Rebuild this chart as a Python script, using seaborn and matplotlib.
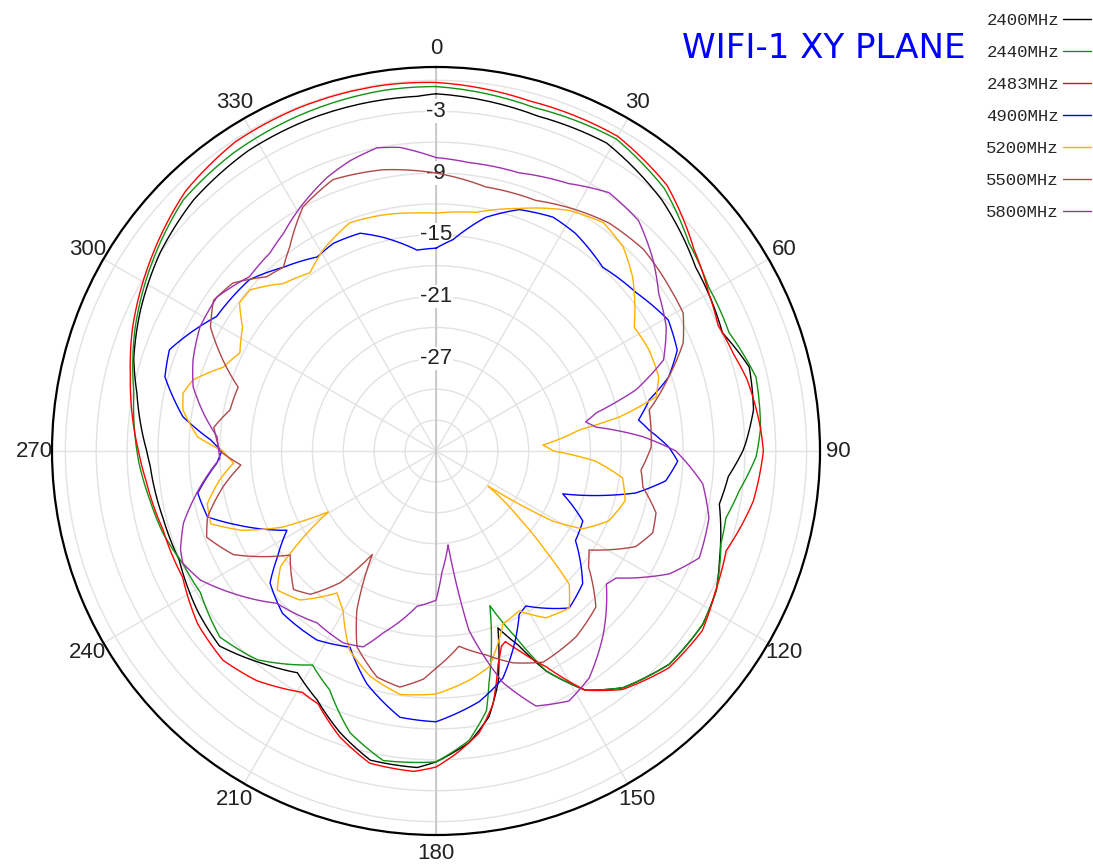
import numpy as np
import pandas as pd
import matplotlib
matplotlib.use("Agg")
import matplotlib.pyplot as plt
import seaborn as sns

# ---------------- data (angle in degrees, gain in dB) ----------------
freqs = ["2400MHz", "2440MHz", "2483MHz", "4900MHz", "5200MHz", "5500MHz", "5800MHz"]
colors = ["#000000", "#129212", "#ff0000", "#0000ff", "#ffb000", "#b04848", "#9c32b0"]

ang_2400 = [0, 17, 29, 42, 54.7, 67.6, 75, 82.6, 88.5, 90, 95, 100.6, 111, 116.4, 123, 132.4,
            141.7, 148, 153.4, 157, 160.7, 165, 168.7, 173.5, 180, 183.4, 192, 198.8, 205.5,
            212, 219, 228, 236, 247, 256, 267, 270, 281, 287, 295.5, 305.7, 316, 328, 340, 357]
db_2400 = [-1.3, -2.0, -1.8, -3.2, -5.1, -5.9, -4.5, -4.9, -5.9, -6.2, -7.5, -8.0, -6.5, -5.6,
           -5.1, -5.3, -6.7, -8.6, -12.1, -15.5, -17.8, -12.7, -9.7, -7.5, -5.8, -5.2, -5.3,
           -7.1, -9.2, -10.6, -9.4, -7.7, -8.1, -8.9, -8.7, -8.2, -7.9, -6.4, -5.3, -4.2, -3.0,
           -2.1, -1.6, -1.5, -1.5]

ang_2440 = [0, 16, 30, 41, 50.6, 59, 68, 77, 86, 91, 97.5, 103, 108, 116.4, 123, 132.4, 141.7,
            148, 153.4, 156.8, 160.8, 167.2, 169, 173.5, 180, 189.7, 197, 204, 210, 220.6, 229.3,
            239, 246, 253.3, 260.3, 268, 281, 292.4, 302.8, 314.8, 325.7, 338, 352]
db_2440 = [-0.6, -1.3, -1.0, -2.2, -4.2, -5.1, -5.3, -4.1, -4.4, -4.9, -6.3, -7.1, -6.9, -5.6,
           -5.1, -5.3, -6.7, -8.6, -12.1, -16.3, -20.1, -12.8, -10.3, -7.7, -5.8, -5.5, -7.4,
           -10.6, -12.0, -9.3, -8.3, -9.3, -9.1, -8.3, -7.8, -7.1, -6.1, -4.4, -3.0, -1.4, -1.0,
           -0.8, -0.6]

ang_2483 = [0, 15, 30, 41, 52, 60, 66, 72, 77, 86, 90, 99, 109, 117, 124, 133, 142, 148, 153,
            157.4, 160, 161.5, 163.8, 167.3, 171.3, 176, 180, 184, 192, 198.6, 205, 209, 218,
            225.5, 234, 243.5, 254, 264, 270, 284, 292, 304, 316, 327, 338, 352]
db_2483 = [-0.2, -0.8, -0.7, -1.8, -4.2, -5.4, -6.0, -5.6, -5.0, -4.4, -4.2, -4.8, -6.2, -5.6,
           -4.8, -5.1, -6.6, -8.6, -12.5, -15.0, -16.3, -16.0, -14.4, -10.8, -8.3, -6.6, -5.3,
           -4.8, -5.0, -6.7, -8.9, -9.2, -7.7, -7.0, -7.4, -8.5, -8.4, -7.7, -7.1, -5.4, -4.2,
           -2.6, -0.95, -0.2, -0.1, -0.1]

ang_4900 = [0, 4.6, 12, 19, 26.6, 32.7, 42.2, 51.7, 60.6, 67.3, 72.4, 76.5, 81.3, 84.4, 89,
            92.4, 97.4, 101.9, 108.7, 115.5, 122.7, 132.1, 139.7, 149.9, 153, 156.8, 163.6, 170.2,
            180, 187.7, 196.5, 203.7, 212.2, 223.4, 231.5, 236.3, 242, 249.6, 253.9, 260, 266.9,
            270, 272.8, 277.7, 285.3, 290.8, 295.6, 301.5, 312.6, 320.3, 328.5, 333.7, 340.8,
            346, 354.6]
db_4900 = [-16.3, -15.4, -12.8, -11.2, -10.6, -10.9, -11.9, -11.2, -10.1, -10.6, -12.3, -14.7,
           -16.1, -15.2, -13.4, -12.5, -13.5, -16.2, -23.0, -20.2, -19.9, -16.8, -16.0, -18.6,
           -18.2, -16.3, -13.0, -11.3, -9.7, -9.9, -12.4, -15.2, -14.3, -14.3, -15.4, -17.5,
           -19.6, -15.4, -12.9, -12.5, -14.7, -15.2, -14.1, -11.2, -8.7, -8.3, -9.5, -11.0,
           -11.4, -12.8, -13.9, -13.5, -13.6, -14.6, -16.4]

ang_5200 = [0, 9.5, 18.9, 28.9, 36.2, 42.5, 48.5, 58, 64.6, 71.6, 76.2, 79.5, 81.6, 86.8, 90,
            93.6, 98.2, 104.7, 112, 118, 121, 122.6, 124, 128.9, 132.3, 135, 139.7, 146.6, 152.6,
            158.8, 166.2, 171.8, 180, 188.4, 196.3, 203.4, 210.3, 214.9, 222.4, 228.8, 233.4,
            234.8, 240.5, 243.6, 247.7, 252.1, 257, 262.4, 266.6, 270, 273.4, 279.2, 282.9,
            286.3, 291.5, 296.6, 302.6, 307, 310.9, 317.7, 324.7, 330.7, 339.3, 347.3, 355.4]
db_5200 = [-12.9, -12.5, -11.1, -9.3, -8.5, -9.1, -10.5, -13.3, -13.1, -13.2, -14.0, -17.9,
           -21.9, -25.6, -24.6, -20.5, -17.7, -17.0, -17.9, -19.9, -22.8, -26.5, -29.9, -25.6,
           -21.6, -17.7, -16.0, -16.6, -18.5, -18.0, -14.4, -13.5, -12.4, -12.1, -13.2, -14.9,
           -18.1, -19.2, -16.4, -15.5, -17.2, -18.6, -24.0, -19.4, -15.7, -13.0, -13.2, -14.8,
           -16.3, -15.3, -12.8, -11.1, -10.8, -11.4, -13.8, -14.7, -13.7, -12.1, -12.1, -14.0,
           -14.8, -13.6, -12.3, -12.5, -12.8]

ang_5500 = [0, 10.7, 21.7, 30.2, 37.2, 45.8, 54.9, 60.8, 66.4, 72.4, 79.1, 89, 95.3, 99.9,
            105.7, 110.7, 115.6, 122.9, 127.2, 134.3, 143, 153.1, 160, 166.2, 173.3, 180, 183.2,
            188.7, 194.6, 202, 206.4, 211.6, 216, 221.2, 225.8, 234.5, 242.9, 249.4, 253.9,
            260.4, 265.9, 270, 276.1, 281.3, 287.9, 293.1, 298.8, 304.1, 309.6, 315.8, 320.3,
            324.4, 331.4, 339.2, 349.3]
db_5500 = [-9.0, -9.9, -9.8, -8.9, -8.2, -7.9, -8.3, -8.5, -9.8, -12.3, -14.9, -15.1, -16.0,
           -15.6, -13.8, -13.5, -14.5, -18.3, -17.4, -14.3, -13.4, -13.0, -14.1, -15.6, -16.9,
           -14.9, -13.8, -12.8, -13.3, -15.5, -18.7, -24.2, -20.2, -17.5, -16.7, -18.6, -13.9,
           -12.2, -12.9, -15.0, -17.0, -15.0, -14.3, -15.6, -15.8, -13.5, -11.0, -9.9, -10.4,
           -12.4, -12.8, -11.6, -9.0, -7.8, -8.2]

ang_5800 = [0, 6.5, 16.6, 26.4, 33.8, 41.3, 48.6, 54.7, 61.7, 68.2, 73, 76.6, 79, 81.5, 86, 90,
            97, 103.8, 112.1, 117.8, 125.2, 128, 137.6, 146, 152, 158.6, 163.9, 169.6, 172.7,
            177.2, 180, 187, 196.2, 200.4, 205.8, 214.7, 226.3, 235, 241.3, 246.1, 248.9, 254.1,
            260, 268, 273.7, 279.3, 284.8, 290.5, 297.7, 305.1, 313.1, 320, 324.9, 330.9, 338.3,
            343.5, 349, 353.2]
db_5800 = [-7.5, -7.8, -7.8, -7.0, -5.8, -6.2, -7.9, -9.5, -10.6, -12.2, -15.7, -20.0, -21.2,
           -20.3, -15.9, -12.7, -9.9, -8.7, -8.4, -10.4, -14.6, -15.0, -11.9, -9.4, -8.5, -9.4,
           -12.6, -18.3, -26.8, -24.2, -21.5, -20.8, -17.6, -15.7, -15.3, -15.7, -14.6, -11.9,
           -9.9, -9.1, -9.4, -10.5, -12.4, -15.0, -14.7, -13.1, -11.6, -10.8, -10.1, -10.0,
           -11.2, -10.9, -10.2, -8.9, -7.4, -6.6, -6.0, -6.3]

angles = [ang_2400, ang_2440, ang_2483, ang_4900, ang_5200, ang_5500, ang_5800]
gains = [db_2400, db_2440, db_2483, db_4900, db_5200, db_5500, db_5800]

r_ticks = [-33, -30, -27, -24, -21, -18, -15, -12, -9, -6, -3, 0]
r_labels = [-3, -9, -15, -21, -27]
theta_ticks = [0, 30, 60, 90, 120, 150, 180, 210, 240, 270, 300, 330]
r_min, r_max = -36, 1.3

# ---------------- build long data ----------------
frames = []
for f, a, g in zip(freqs, angles, gains):
    a_c = list(a) + [a[0] + 360]
    g_c = list(g) + [g[0]]
    frames.append(pd.DataFrame({"theta": np.deg2rad(a_c), "gain": g_c, "freq": f}))
df = pd.concat(frames, ignore_index=True)

# ---------------- figure ----------------
sns.set_theme(style="white")
plt.rcParams["font.family"] = ["Liberation Sans", "DejaVu Sans"]

W, H = 1093, 866
fig = plt.figure(figsize=(W / 100, H / 100), dpi=100)
cx, cy, R = 436, 451, 384
ax = fig.add_axes([(cx - R) / W, 1 - (cy + R) / H, 2 * R / W, 2 * R / H], projection="polar")
ax.set_theta_zero_location("N")
ax.set_theta_direction(-1)

for f, c in zip(freqs, colors):
    sub = df[df["freq"] == f]
    sns.lineplot(data=sub, x="theta", y="gain", ax=ax, color=c, lw=1.0, sort=False,
                 estimator=None, label=f, legend=False, zorder=3)

# draw each segment following the polar geometry (arc-like rendering)
for ln in ax.get_lines():
    ln.get_path()._interpolation_steps = 8

ax.set_ylim(r_min, r_max)
ax.set_yticks(r_ticks)
ax.set_yticklabels([])
ax.set_xticks(np.deg2rad(theta_ticks))
ax.set_xticklabels([str(t) for t in theta_ticks], fontsize=16, color="#222222")
ax.tick_params(axis="x", pad=0)
ax.grid(True, color="#e2e2e2", lw=1.0)
ax.set_xlabel("")
ax.set_ylabel("")
ax.spines["polar"].set_color("black")
ax.spines["polar"].set_linewidth(1.6)

# darker vertical spoke
ax.axvline(0, color="#c4c4c4", lw=1.2, zorder=1)
ax.axvline(np.pi, color="#c4c4c4", lw=1.2, zorder=1)

for v in r_labels:
    ax.text(0, v, str(v), ha="center", va="center", fontsize=16, color="#222222",
            zorder=2, bbox=dict(fc="white", ec="none", pad=1.0))

fig.text(682 / W, 1 - 58 / H, "WIFI-1 XY PLANE", color="#0000ff", fontsize=24.5,
         family="DejaVu Sans", ha="left", va="baseline")

handles = ax.get_lines()[:len(freqs)]
fig.legend(handles, freqs, loc="upper right", bbox_to_anchor=(1091 / W, 1 - 13 / H),
           frameon=False, markerfirst=False, prop={"family": "Liberation Mono", "size": 12.5},
           handlelength=1.6, handletextpad=0.25, labelspacing=0.97, borderaxespad=0,
           borderpad=0)

fig.savefig("out.png", dpi=100)
